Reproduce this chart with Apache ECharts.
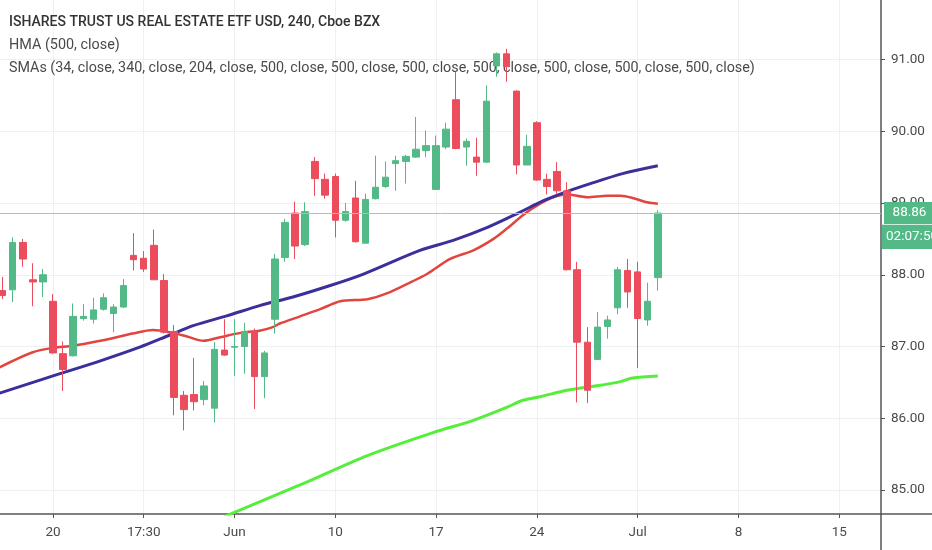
<!DOCTYPE html>
<html>
<head>
<meta charset="utf-8">
<script src="https://cdn.jsdelivr.net/npm/echarts@6/dist/echarts.min.js"></script>
<style>html,body{margin:0;padding:0;background:#fff}#c{width:932px;height:550px}</style>
</head>
<body>
<div id="c"></div>
<script>
const FONT = 'Roboto, "Liberation Sans", sans-serif';

// ---- data ----
const titleMain = 'ISHARES TRUST US REAL ESTATE ETF USD, 240, Cboe BZX';
const titleHMA = 'HMA (500, close)';
const titleSMA = 'SMAs (34, close, 340, close, 204, close, 500, close, 500, close, 500, close, 500, close, 500, close, 500, close, 500, close)';

const firstBarIndex = -5; // bar slots, 0 = first bar of May 20
const opens  = [87.78,87.79,88.45,87.93,87.90, 87.63,86.90,86.87,87.39,87.38,87.52,87.46,87.55,88.27,88.23,
                88.41,87.92,87.21,86.32,86.33,86.26,86.14,86.95,86.99,87.00,87.21,86.58,87.38,88.24,88.86,88.42,
                89.58,89.33,89.37,88.76,89.07,88.44,89.06,89.23,89.55,89.58,89.64,89.73,89.19,89.78,90.44,89.78,
                89.64,89.57,90.91,91.08,90.56,89.53,90.12,89.33,89.44,89.17,88.07,87.06,86.82,87.28,87.54,88.06,
                88.04,87.37,87.96];
const closes = [87.71,88.45,88.22,87.90,88.00, 86.91,86.68,87.42,87.42,87.51,87.68,87.55,87.85,88.21,88.08,
                87.93,87.20,86.29,86.12,86.23,86.45,86.96,86.88,87.00,87.21,86.58,86.91,88.22,88.73,88.40,88.88,
                89.34,89.11,88.76,88.88,88.46,89.05,89.22,89.36,89.59,89.65,89.75,89.80,89.80,90.03,89.76,89.86,
                89.57,90.42,91.08,90.90,89.53,89.79,89.32,89.23,89.17,88.07,87.06,86.39,87.27,87.37,88.07,87.76,
                87.39,87.63,88.86];
const lows   = [87.66,87.62,88.11,87.56,87.69, 86.90,86.38,86.86,87.36,87.32,87.50,87.20,87.54,88.06,88.04,
                87.93,87.18,86.04,85.83,86.11,86.18,85.94,86.87,86.59,86.62,86.13,86.28,87.18,88.18,88.22,88.40,
                89.10,89.06,88.52,88.74,88.45,88.44,89.05,89.21,89.17,89.27,89.63,89.64,89.19,89.75,89.75,89.52,
                89.38,89.56,90.76,90.69,89.40,89.53,89.31,89.12,89.13,88.06,86.22,86.21,86.81,87.11,87.45,87.54,
                86.70,87.29,87.78];
const highs  = [87.97,88.52,88.50,88.16,88.08, 87.73,87.07,87.60,87.59,87.68,87.74,87.59,87.94,88.58,88.33,
                88.63,88.01,87.30,86.38,86.84,86.52,87.06,87.38,87.38,87.33,87.25,86.94,88.29,88.78,89.02,89.01,
                89.64,89.41,89.41,89.00,89.31,89.13,89.66,89.58,89.66,89.67,90.20,90.01,89.94,90.12,90.83,89.90,
                89.91,90.64,91.10,91.15,90.57,89.95,90.14,89.41,89.57,89.29,88.18,87.27,87.48,87.43,88.11,88.22,
                88.18,87.89,88.90];

// moving averages: [bar slot, price]
const blueMA = [[-5.3,86.35],[0,86.59],[4.7,86.80],[8.6,86.99],[11.6,87.16],[13.9,87.29],[17.3,87.43],
                [20.5,87.57],[23.8,87.69],[27.5,87.85],[30.8,88.01],[36.4,88.34],[39.7,88.48],[43.1,88.66],
                [46.3,88.87],[48.6,89.03],[51.0,89.16],[53.3,89.27],[56.5,89.41],[60,89.52]];
const redMA  = [[-5.3,86.71],[-2,86.92],[0,86.98],[2,87.01],[4.7,87.08],[7.9,87.18],[9.9,87.23],[11.9,87.19],
                [13.3,87.14],[14.9,87.08],[16.6,87.13],[18.6,87.19],[20.5,87.22],[21.8,87.27],[22.5,87.32],
                [24.5,87.42],[26.5,87.52],[28.5,87.63],[31.2,87.66],[33.1,87.74],[35.1,87.87],[37.1,88.01],
                [39.4,88.22],[41.7,88.34],[43.7,88.50],[45.0,88.64],[47.0,88.87],[49.3,89.06],[51.0,89.12],
                [53.0,89.08],[55.0,89.10],[56.3,89.10],[57.5,89.07],[58.9,89.01],[60,88.99]];
const greenMA = [[17.0,84.63],[24.5,85.07],[31.2,85.48],[37.7,85.80],[41.7,85.97],[45.0,86.15],[46.6,86.25],
                 [48.3,86.30],[51.0,86.39],[53.3,86.44],[56.0,86.50],[57.5,86.56],[60,86.59]];

const lastPrice = 88.86;
const countdown = '02:07:50';

const xTickSlots  = [0, 9, 18, 28, 38, 48, 58, 68, 78];
const xTickLabels = ['20', '17:30', 'Jun', '10', '17', '24', 'Jul', '8', '15'];
const yTickValues = [85, 86, 87, 88, 89, 90, 91];

// ---- build ----
const candles = opens.map((o, i) => [firstBarIndex + i, o, closes[i], lows[i], highs[i]]);
const UP = '#53b987', DOWN = '#eb4d5c';
const AXIS = '#555555', GRIDC = '#eff0f3', LABELC = '#4a4a4a';
const PRICELINE = '#8fd2b2';

const chart = echarts.init(document.getElementById('c'), null, {renderer: 'canvas'});
chart.setOption({
  animation: false,
  backgroundColor: '#ffffff',
  textStyle: {fontFamily: FONT},
  title: [
    {text: titleMain, left: 9, top: 15, padding: 0, z: 1,
     textStyle: {fontFamily: FONT, fontSize: 14, fontWeight: 500, color: '#333333'}},
    {text: titleHMA, left: 9, top: 38, padding: 0, z: 1,
     textStyle: {fontFamily: FONT, fontSize: 14.4, fontWeight: 'normal', color: '#4a4a4a'}},
    {text: titleSMA, left: 9, top: 61, padding: 0, z: 1,
     textStyle: {fontFamily: FONT, fontSize: 14.3, fontWeight: 'normal', color: '#4a4a4a'}}
  ],
  grid: {left: 0, right: 51, top: 0, bottom: 36, containLabel: false},
  xAxis: {
    type: 'value', min: -5.26, max: 82.14,
    axisLine: {show: true, onZero: false, lineStyle: {color: AXIS, width: 1.5}},
    axisTick: {show: true, customValues: xTickSlots, length: 4, lineStyle: {color: AXIS}},
    axisLabel: {customValues: xTickSlots, margin: 12, color: LABELC, fontSize: 13.5, fontFamily: FONT,
      formatter: v => { const k = xTickSlots.indexOf(Math.round(v)); return k >= 0 ? xTickLabels[k] : ''; }},
    splitLine: {show: true, lineStyle: {color: GRIDC, width: 1}}
  },
  yAxis: {
    type: 'value', position: 'right', min: 84.665, max: 91.83, scale: true,
    axisLine: {show: true, onZero: false, lineStyle: {color: AXIS, width: 1.5}},
    axisTick: {show: true, customValues: yTickValues, length: 4, lineStyle: {color: AXIS}},
    axisLabel: {customValues: yTickValues, margin: 10, color: LABELC, fontSize: 13.5, fontFamily: FONT,
      formatter: v => v.toFixed(2)},
    splitLine: {show: true, lineStyle: {color: GRIDC, width: 1}}
  },
  series: [
    {type: 'line', data: greenMA, showSymbol: false, smooth: 0.3, z: 2, clip: true,
     lineStyle: {color: '#55ee3a', width: 3},
     markLine: {
       silent: true, symbol: ['none', 'none'], animation: false,
       lineStyle: {color: PRICELINE, width: 1, type: 'solid', opacity: 1},
       emphasis: {disabled: true},
       label: {show: true, position: 'end', distance: 1,
         formatter: '{e|}\n{p|' + lastPrice.toFixed(2) + '}\n{g|}\n{t|' + countdown + '}',
         rich: {
           e: {height: 25, width: 51},
           p: {height: 22, width: 51, backgroundColor: UP, color: '#fff', fontSize: 13.5, fontFamily: FONT, align: 'center'},
           g: {height: 1, width: 51, backgroundColor: '#cfeee0'},
           t: {height: 24, width: 51, backgroundColor: UP, color: '#fff', fontSize: 13.5, fontFamily: FONT, align: 'left', padding: [0, 0, 0, 4]}
         }},
       data: [{yAxis: lastPrice}]
     }},
    {type: 'line', data: redMA, showSymbol: false, smooth: 0.3, z: 2, clip: true,
     lineStyle: {color: '#e2453e', width: 2.5}},
    {type: 'line', data: blueMA, showSymbol: false, smooth: 0.3, z: 2, clip: true,
     lineStyle: {color: '#3b2f9c', width: 3}},
    {type: 'candlestick', data: candles, barWidth: 7, z: 3,
     itemStyle: {color: UP, color0: DOWN, borderColor: UP, borderColor0: DOWN, borderWidth: 1}}
  ],
  graphic: [
    {type: 'line', shape: {x1: 881, y1: 514, x2: 881, y2: 550}, style: {stroke: AXIS, lineWidth: 1.5}, silent: true},
    {type: 'line', shape: {x1: 881, y1: 514, x2: 932, y2: 514}, style: {stroke: AXIS, lineWidth: 1.5}, silent: true}
  ]
});
</script>
</body>
</html>
